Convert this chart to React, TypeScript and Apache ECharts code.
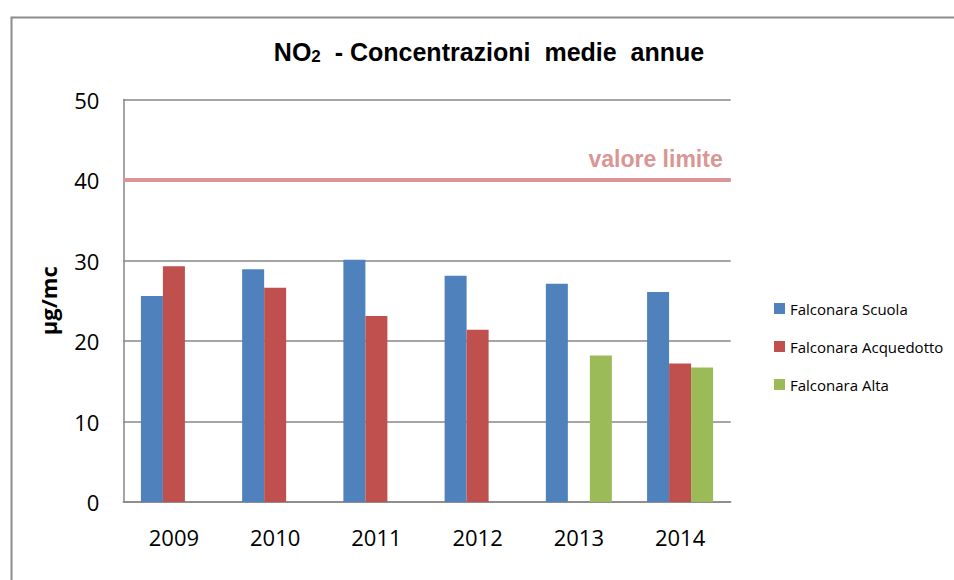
import React, { useEffect, useRef } from "react";
import * as echarts from "echarts";

const years = ["2009", "2010", "2011", "2012", "2013", "2014"];
const scuola = [25.6, 28.9, 30.1, 28.1, 27.1, 26.1];
const acquedotto: (number | null)[] = [29.3, 26.6, 23.1, 21.4, null, 17.2];
const alta: (number | null)[] = [null, null, null, null, 18.2, 16.7];
const seriesNames = ["Falconara Scuola", "Falconara Acquedotto", "Falconara Alta"];
const seriesColors = ["#4F81BD", "#C0504D", "#9BBB59"];
const limitValue = 40;
const limitLabel = "valore limite";
const yMin = 0;
const yMax = 50;
const yInterval = 10;
const yName = "μg/mc";

const SANS = "'Open Sans', 'Noto Sans', sans-serif";
const ARIAL = "'Liberation Sans', Arial, sans-serif";

export default function App() {
  const ref = useRef<HTMLDivElement>(null);
  useEffect(() => {
    if (!ref.current) return;
    const chart = echarts.init(ref.current, null, { renderer: "svg" });
    const gray = "#878787";
    const values = [scuola, acquedotto, alta];
    chart.setOption({
      animation: false,
      backgroundColor: "#ffffff",
      grid: { left: 123.3, right: 223.3, top: 99.5, bottom: 78 },
      legend: {
        orient: "vertical",
        left: 769,
        top: 296,
        itemWidth: 11,
        itemHeight: 11,
        itemGap: 23,
        icon: "rect",
        data: seriesNames,
        textStyle: { fontSize: 15, lineHeight: 15, fontFamily: SANS, color: "#000" },
      },
      xAxis: {
        type: "category",
        data: years,
        axisLine: { show: true, lineStyle: { color: gray, width: 1.5 } },
        axisTick: { show: false },
        axisLabel: { fontSize: 22, fontFamily: SANS, color: "#000", margin: 24 },
      },
      yAxis: {
        type: "value",
        min: yMin,
        max: yMax,
        interval: yInterval,
        name: yName,
        nameLocation: "middle",
        nameGap: 64,
        nameRotate: 90,
        nameTextStyle: { fontSize: 22, fontWeight: "bold", fontFamily: SANS, color: "#000" },
        axisLine: { show: true, lineStyle: { color: gray, width: 1.5 } },
        axisTick: { show: false },
        splitLine: { show: true, lineStyle: { color: gray, width: 1.5 } },
        axisLabel: { fontSize: 22, fontFamily: SANS, color: "#000", margin: 24 },
      },
      series: seriesNames.map((name, i) => ({
        name,
        type: "bar",
        data: values[i],
        barWidth: 22,
        barGap: "0%",
        itemStyle: { color: seriesColors[i] },
        ...(i === 0
          ? {
              markLine: {
                silent: true,
                symbol: "none",
                data: [{ yAxis: limitValue }],
                lineStyle: { color: "#D99694", width: 4, type: "solid" },
                label: {
                  show: true,
                  position: "insideEndTop",
                  formatter: limitLabel,
                  color: "#D99694",
                  fontSize: 23,
                  fontWeight: "bold",
                  fontFamily: ARIAL,
                  distance: [8, 10],
                },
              },
            }
          : {}),
      })),
      graphic: [
        {
          type: "rect",
          left: 9,
          top: 15,
          shape: { width: 1000, height: 700 },
          style: { fill: "none", stroke: "#8c8c8c", lineWidth: 2 },
          silent: true,
          z: -10,
        },
        {
          type: "text",
          x: 489,
          y: 52,
          style: {
            text: "{a|NO}{b|2}{a|  - Concentrazioni  medie  annue}",
            align: "center",
            verticalAlign: "middle",
            rich: {
              a: { fontSize: 25, fontWeight: "bold", fontFamily: ARIAL, fill: "#000", verticalAlign: "bottom" },
              b: { fontSize: 17, fontWeight: "bold", fontFamily: ARIAL, fill: "#000", verticalAlign: "bottom" },
            },
          },
        },
      ],
    });
    return () => chart.dispose();
  }, []);
  return (
    <div
      ref={ref}
      style={{ position: "fixed", left: 0, top: 0, width: 954, height: 580, background: "#fff" }}
    />
  );
}
